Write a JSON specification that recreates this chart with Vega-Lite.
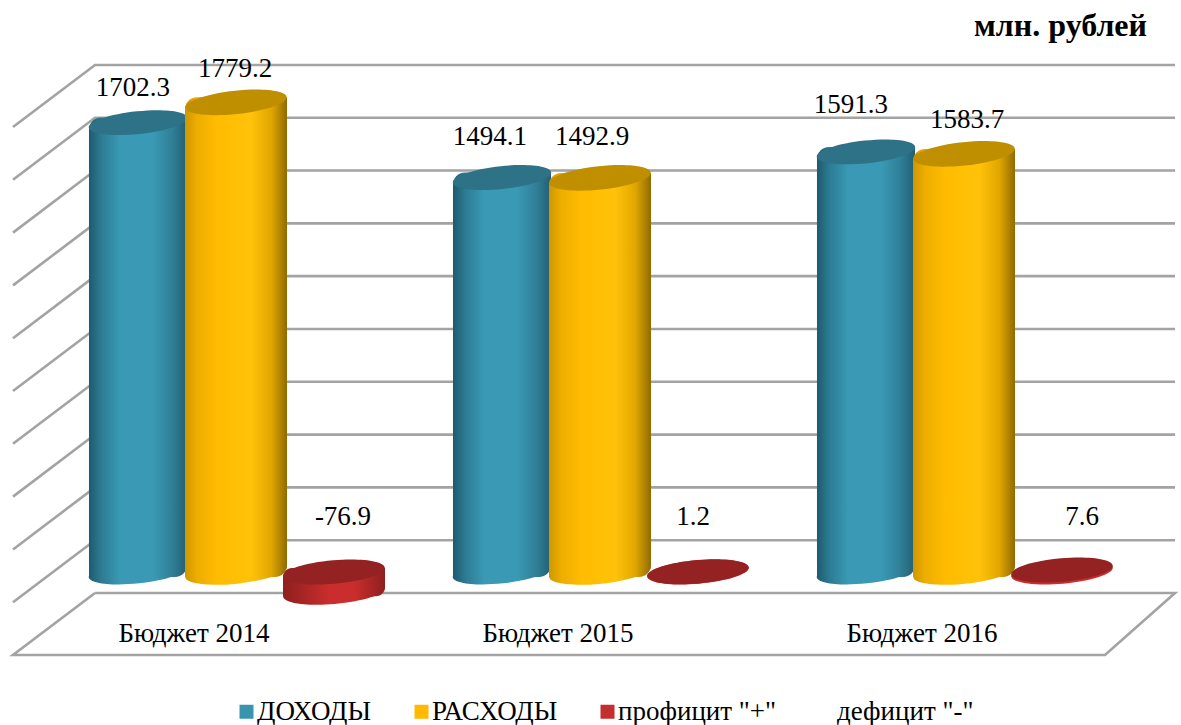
{"$schema":"https://vega.github.io/schema/vega-lite/v6.json","width":1181,"height":725,"autosize":"none","padding":0,"background":"white",
"title":{"text":"млн. рублей","anchor":"end","frame":"group","orient":"top","offset":-43,"dx":-34,"font":"Liberation Serif","fontSize":32,"fontWeight":"bold","color":"#000000"},
"config":{"view":{"stroke":null},"text":{"font":"Liberation Serif"}},
"datasets":{
"budget":[
{"budget":"Бюджет 2014","series":"ДОХОДЫ","value":1702.3},{"budget":"Бюджет 2014","series":"РАСХОДЫ","value":1779.2},{"budget":"Бюджет 2014","series":"профицит \"+\"","value":-76.9},
{"budget":"Бюджет 2015","series":"ДОХОДЫ","value":1494.1},{"budget":"Бюджет 2015","series":"РАСХОДЫ","value":1492.9},{"budget":"Бюджет 2015","series":"профицит \"+\"","value":1.2},
{"budget":"Бюджет 2016","series":"ДОХОДЫ","value":1591.3},{"budget":"Бюджет 2016","series":"РАСХОДЫ","value":1583.7},{"budget":"Бюджет 2016","series":"профицит \"+\"","value":7.6}],
"walls":[
{"line":"2000","o":1,"u":13,"h":1765},{"line":"2000","o":2,"u":95,"h":2000},{"line":"2000","o":3,"u":1175,"h":2000},
{"line":"1800","o":1,"u":13,"h":1565},{"line":"1800","o":2,"u":95,"h":1800},{"line":"1800","o":3,"u":1175,"h":1800},
{"line":"1600","o":1,"u":13,"h":1365},{"line":"1600","o":2,"u":95,"h":1600},{"line":"1600","o":3,"u":1175,"h":1600},
{"line":"1400","o":1,"u":13,"h":1165},{"line":"1400","o":2,"u":95,"h":1400},{"line":"1400","o":3,"u":1175,"h":1400},
{"line":"1200","o":1,"u":13,"h":965},{"line":"1200","o":2,"u":95,"h":1200},{"line":"1200","o":3,"u":1175,"h":1200},
{"line":"1000","o":1,"u":13,"h":765},{"line":"1000","o":2,"u":95,"h":1000},{"line":"1000","o":3,"u":1175,"h":1000},
{"line":"800","o":1,"u":13,"h":565},{"line":"800","o":2,"u":95,"h":800},{"line":"800","o":3,"u":1175,"h":800},
{"line":"600","o":1,"u":13,"h":365},{"line":"600","o":2,"u":95,"h":600},{"line":"600","o":3,"u":1175,"h":600},
{"line":"400","o":1,"u":13,"h":165},{"line":"400","o":2,"u":95,"h":400},{"line":"400","o":3,"u":1175,"h":400},
{"line":"200","o":1,"u":13,"h":-35},{"line":"200","o":2,"u":95,"h":200},{"line":"200","o":3,"u":1175,"h":200},
{"line":"floor","o":1,"u":95,"h":0},{"line":"floor","o":2,"u":1175,"h":0},{"line":"floor","o":3,"u":1105,"h":-235},{"line":"floor","o":4,"u":13,"h":-235},{"line":"floor","o":5,"u":95,"h":0}]},
"layer":[
{"data":{"name":"walls"},"mark":{"type":"line","color":"#a3a3a3","strokeWidth":2.6,"interpolate":"linear"},
"encoding":{"x":{"field":"u","type":"quantitative","scale":{"domain":[0,1181],"nice":false,"zero":false},"axis":null},
"y":{"field":"h","type":"quantitative","scale":{"domain":[-500,2246],"nice":false,"zero":false},"axis":null},
"detail":{"field":"line"},"order":{"field":"o"}}},
{"data":{"name":"budget"},
"encoding":{
"x":{"field":"budget","type":"nominal","sort":null,"scale":{"domain":["Бюджет 2014","Бюджет 2015","Бюджет 2016"],"range":[54,1146],"paddingInner":0,"paddingOuter":0},
"axis":{"title":null,"domain":false,"ticks":false,"labelAngle":0,"offset":-105,"labelPadding":0,"labelOffset":-42,"labelFont":"Liberation Serif","labelFontSize":27,"labelColor":"#000000","grid":false}},
"xOffset":{"field":"series","type":"nominal","sort":null,"scale":{"domain":["ДОХОДЫ","РАСХОДЫ","профицит \"+\""],"paddingInner":0,"paddingOuter":0.357}}},
"layer":[
{"transform":[{"filter":"datum.value>100"}],"mark":{"type":"bar","cornerRadiusTopLeft":7,"cornerRadiusBottomRight":7},"encoding":{"y":{"field":"value","type":"quantitative","stack":null,"scale":{"domain":[-579.5,2166.7],"nice":false,"zero":false},"axis":null},"y2":{"datum":0},
"color":{"field":"series","type":"nominal","scale":{"domain":["ДОХОДЫ","РАСХОДЫ","профицит \"+\"","дефицит \"-\""],"range":["#3a94ad","#ffb900","#c42e2e","transparent"]},
"legend":{"title":null,"orient":"none","legendX":233,"legendY":698,"direction":"horizontal","columns":4,"columnPadding":36,"padding":0,"symbolType":"square","symbolSize":196,"symbolStrokeWidth":0,"symbolOpacity":1,"labelOffset":-3,"labelFont":"Liberation Serif","labelFontSize":27,"labelColor":"#000000","labelLimit":300}}}},

{"transform":[{"filter":"datum.series=='ДОХОДЫ'"}],"mark":{"type":"point","shape":"M-1,0A1,0.23,0,1,1,1,0A1,0.23,0,1,1,-1,0Z","filled":true,"size":9800,"angle":-6,"opacity":1,"strokeWidth":0,"fill":{"x1":0,"x2":1,"y1":0,"y2":0,"gradient":"linear","stops":[{"offset":0,"color":"#1f5a6e"},{"offset":0.12,"color":"#2c7a92"},{"offset":0.32,"color":"#3a9ab5"},{"offset":0.65,"color":"#3a9ab5"},{"offset":0.85,"color":"#2f7f97"},{"offset":1,"color":"#235f73"}]}},"encoding":{"y":{"datum":0,"scale":{"domain":[-579.5,2166.7],"nice":false,"zero":false}}}},
{"transform":[{"filter":"datum.series=='ДОХОДЫ'"}],"mark":{"type":"bar","yOffset":-5,"y2Offset":5,"cornerRadiusTopLeft":12,"cornerRadiusBottomRight":12,"fill":{"x1":0,"x2":1,"y1":0,"y2":0,"gradient":"linear","stops":[{"offset":0,"color":"#1f5a6e"},{"offset":0.12,"color":"#2c7a92"},{"offset":0.32,"color":"#3a9ab5"},{"offset":0.65,"color":"#3a9ab5"},{"offset":0.85,"color":"#2f7f97"},{"offset":1,"color":"#235f73"}]}},"encoding":{"y":{"field":"value","type":"quantitative","stack":null,"scale":{"domain":[-579.5,2166.7],"nice":false,"zero":false}},"y2":{"datum":0}}},
{"transform":[{"filter":"datum.series=='ДОХОДЫ'"}],"mark":{"type":"point","shape":"M-1,0A1,0.23,0,1,1,1,0A1,0.23,0,1,1,-1,0Z","filled":true,"size":9800,"angle":-6,"opacity":1,"strokeWidth":0,"fill":"#2d7286"},"encoding":{"y":{"field":"value","type":"quantitative","stack":null,"scale":{"domain":[-579.5,2166.7],"nice":false,"zero":false}}}},

{"transform":[{"filter":"datum.series=='РАСХОДЫ'"}],"mark":{"type":"point","shape":"M-1,0A1,0.23,0,1,1,1,0A1,0.23,0,1,1,-1,0Z","filled":true,"size":10400,"angle":-6,"opacity":1,"strokeWidth":0,"fill":{"x1":0,"x2":1,"y1":0,"y2":0,"gradient":"linear","stops":[{"offset":0,"color":"#cf9700"},{"offset":0.12,"color":"#eeae00"},{"offset":0.32,"color":"#ffbc00"},{"offset":0.65,"color":"#ffc20a"},{"offset":0.85,"color":"#dfa600"},{"offset":1,"color":"#8f6a00"}]}},"encoding":{"y":{"datum":0,"scale":{"domain":[-579.5,2166.7],"nice":false,"zero":false}}}},
{"transform":[{"filter":"datum.series=='РАСХОДЫ'"}],"mark":{"type":"bar","width":102,"yOffset":-5,"y2Offset":5,"cornerRadiusTopLeft":12,"cornerRadiusBottomRight":12,"fill":{"x1":0,"x2":1,"y1":0,"y2":0,"gradient":"linear","stops":[{"offset":0,"color":"#cf9700"},{"offset":0.12,"color":"#eeae00"},{"offset":0.32,"color":"#ffbc00"},{"offset":0.65,"color":"#ffc20a"},{"offset":0.85,"color":"#dfa600"},{"offset":1,"color":"#8f6a00"}]}},"encoding":{"y":{"field":"value","type":"quantitative","stack":null,"scale":{"domain":[-579.5,2166.7],"nice":false,"zero":false}},"y2":{"datum":0}}},
{"transform":[{"filter":"datum.series=='РАСХОДЫ'"}],"mark":{"type":"point","shape":"M-1,0A1,0.23,0,1,1,1,0A1,0.23,0,1,1,-1,0Z","filled":true,"size":10400,"angle":-6,"opacity":1,"strokeWidth":0,"fill":"#c08f00"},"encoding":{"y":{"field":"value","type":"quantitative","stack":null,"scale":{"domain":[-579.5,2166.7],"nice":false,"zero":false}}}},

{"transform":[{"filter":"datum.series=='профицит \"+\"' && datum.value<0"}],"mark":{"type":"point","shape":"M-1,0A1,0.23,0,1,1,1,0A1,0.23,0,1,1,-1,0Z","filled":true,"size":10400,"angle":-5,"opacity":1,"strokeWidth":0,"fill":{"x1":0,"x2":1,"y1":0,"y2":0,"gradient":"linear","stops":[{"offset":0,"color":"#8f1f1f"},{"offset":0.45,"color":"#c92d2d"},{"offset":0.7,"color":"#c92d2d"},{"offset":1,"color":"#8f1f1f"}]}},"encoding":{"y":{"field":"value","type":"quantitative","stack":null,"scale":{"domain":[-579.5,2166.7],"nice":false,"zero":false}}}},
{"transform":[{"filter":"datum.series=='профицит \"+\"' && datum.value<0"}],"mark":{"type":"bar","width":102,"yOffset":4,"y2Offset":-4,"cornerRadiusTopLeft":9,"cornerRadiusBottomRight":9,"fill":{"x1":0,"x2":1,"y1":0,"y2":0,"gradient":"linear","stops":[{"offset":0,"color":"#8f1f1f"},{"offset":0.45,"color":"#c92d2d"},{"offset":0.7,"color":"#c92d2d"},{"offset":1,"color":"#8f1f1f"}]}},"encoding":{"y":{"field":"value","type":"quantitative","stack":null,"scale":{"domain":[-579.5,2166.7],"nice":false,"zero":false}},"y2":{"datum":0}}},
{"transform":[{"filter":"datum.series=='профицит \"+\"' && datum.value>=0"}],"mark":{"type":"point","shape":"M-1,0A1,0.23,0,1,1,1,0A1,0.23,0,1,1,-1,0Z","filled":true,"size":10400,"angle":-5,"opacity":1,"strokeWidth":0,"fill":"#c92d2d"},"encoding":{"y":{"datum":0,"scale":{"domain":[-579.5,2166.7],"nice":false,"zero":false}}}},
{"transform":[{"filter":"datum.series=='профицит \"+\"' && datum.value>=0"}],"mark":{"type":"point","shape":"M-1,0A1,0.23,0,1,1,1,0A1,0.23,0,1,1,-1,0Z","filled":true,"size":10400,"angle":-5,"opacity":1,"strokeWidth":0,"fill":"#952222"},"encoding":{"y":{"field":"value","type":"quantitative","stack":null,"scale":{"domain":[-579.5,2166.7],"nice":false,"zero":false}}}},
{"transform":[{"filter":"datum.series=='профицит \"+\"' && datum.value<0"}],"mark":{"type":"point","shape":"M-1,0A1,0.23,0,1,1,1,0A1,0.23,0,1,1,-1,0Z","filled":true,"size":10400,"angle":-5,"opacity":1,"strokeWidth":0,"fill":"#952222"},"encoding":{"y":{"datum":0,"scale":{"domain":[-579.5,2166.7],"nice":false,"zero":false}}}},

{"transform":[{"filter":"datum.budget=='Бюджет 2014' && datum.series=='ДОХОДЫ'"}],"mark":{"type":"text","fontSize":27,"color":"#000000","dx":-5,"dy":-35},"encoding":{"y":{"field":"value","type":"quantitative","stack":null,"scale":{"domain":[-579.5,2166.7],"nice":false,"zero":false}},"text":{"field":"value","type":"nominal"}}},
{"transform":[{"filter":"datum.budget=='Бюджет 2014' && datum.series=='РАСХОДЫ'"}],"mark":{"type":"text","fontSize":27,"color":"#000000","dx":-1,"dy":-33},"encoding":{"y":{"field":"value","type":"quantitative","stack":null,"scale":{"domain":[-579.5,2166.7],"nice":false,"zero":false}},"text":{"field":"value","type":"nominal"}}},
{"transform":[{"filter":"datum.budget=='Бюджет 2015' && datum.series=='ДОХОДЫ'"}],"mark":{"type":"text","fontSize":27,"color":"#000000","dx":-12,"dy":-41},"encoding":{"y":{"field":"value","type":"quantitative","stack":null,"scale":{"domain":[-579.5,2166.7],"nice":false,"zero":false}},"text":{"field":"value","type":"nominal"}}},
{"transform":[{"filter":"datum.budget=='Бюджет 2015' && datum.series=='РАСХОДЫ'"}],"mark":{"type":"text","fontSize":27,"color":"#000000","dx":-8,"dy":-41},"encoding":{"y":{"field":"value","type":"quantitative","stack":null,"scale":{"domain":[-579.5,2166.7],"nice":false,"zero":false}},"text":{"field":"value","type":"nominal"}}},
{"transform":[{"filter":"datum.budget=='Бюджет 2016' && datum.series=='ДОХОДЫ'"}],"mark":{"type":"text","fontSize":27,"color":"#000000","dx":-15,"dy":-47},"encoding":{"y":{"field":"value","type":"quantitative","stack":null,"scale":{"domain":[-579.5,2166.7],"nice":false,"zero":false}},"text":{"field":"value","type":"nominal"}}},
{"transform":[{"filter":"datum.budget=='Бюджет 2016' && datum.series=='РАСХОДЫ'"}],"mark":{"type":"text","fontSize":27,"color":"#000000","dx":3,"dy":-34},"encoding":{"y":{"field":"value","type":"quantitative","stack":null,"scale":{"domain":[-579.5,2166.7],"nice":false,"zero":false}},"text":{"field":"value","type":"nominal"}}},
{"transform":[{"filter":"datum.budget=='Бюджет 2014' && datum.series=='профицит \"+\"'"}],"mark":{"type":"text","fontSize":27,"color":"#000000","dx":9,"dy":-55},"encoding":{"y":{"datum":0,"scale":{"domain":[-579.5,2166.7],"nice":false,"zero":false}},"text":{"field":"value","type":"nominal"}}},
{"transform":[{"filter":"datum.budget=='Бюджет 2015' && datum.series=='профицит \"+\"'"}],"mark":{"type":"text","fontSize":27,"color":"#000000","dx":-5,"dy":-55},"encoding":{"y":{"datum":0,"scale":{"domain":[-579.5,2166.7],"nice":false,"zero":false}},"text":{"field":"value","type":"nominal"}}},
{"transform":[{"filter":"datum.budget=='Бюджет 2016' && datum.series=='профицит \"+\"'"}],"mark":{"type":"text","fontSize":27,"color":"#000000","dx":20,"dy":-55},"encoding":{"y":{"datum":0,"scale":{"domain":[-579.5,2166.7],"nice":false,"zero":false}},"text":{"field":"value","type":"nominal"}}}
]}
],
"resolve":{"scale":{"x":"independent","y":"independent"}}}
